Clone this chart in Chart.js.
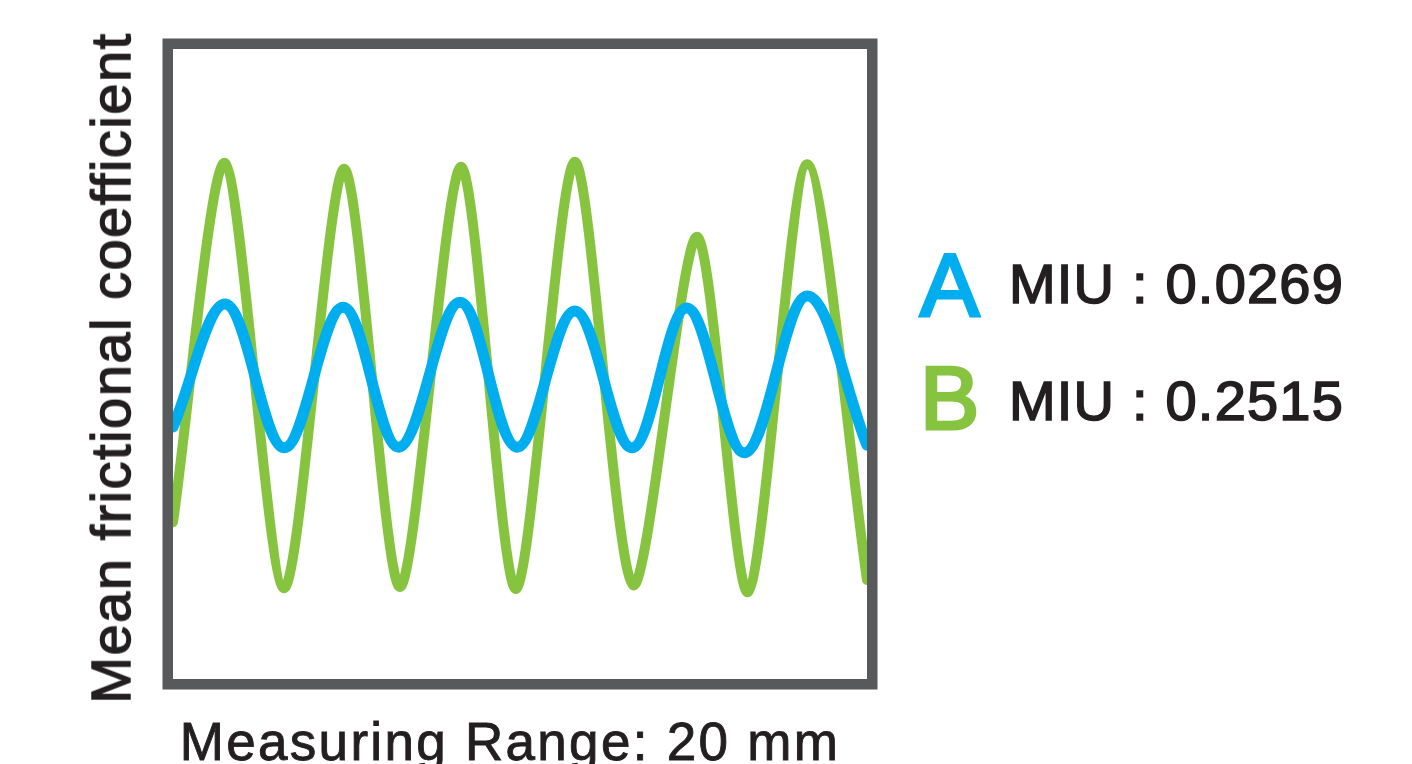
<!DOCTYPE html>
<html>
<head>
<meta charset="utf-8">
<script src="https://cdn.jsdelivr.net/npm/chart.js@4.4.1/dist/chart.umd.min.js"></script>
<style>
html,body{margin:0;padding:0;background:#fff;overflow:hidden}
#wrap{position:relative;width:1412px;height:764px}
#chart{position:absolute;left:0;top:0}
.txt{position:absolute;font-family:"Liberation Sans",Arial,sans-serif;color:#231f20;white-space:nowrap;-webkit-text-stroke:1.3px #231f20}
#ylab{left:111px;top:368px;font-size:56px;line-height:56px;letter-spacing:1.5px;transform:translate(-50%,-50%) rotate(-90deg)}
#xlab{left:510px;top:715px;font-size:53px;line-height:53px;letter-spacing:2.3px;transform:translateX(-50%);-webkit-text-stroke:0.9px #231f20}
.key{font-size:89px;line-height:89px;left:920px;-webkit-text-stroke:3.2px currentColor}
.miu{font-size:56px;line-height:56px;left:1009px;letter-spacing:1.2px;-webkit-text-stroke:1.6px #231f20}
</style>
</head>
<body>
<div id="wrap">
<canvas id="chart" width="1412" height="764"></canvas>
<div class="txt" id="ylab">Mean frictional coefficient</div>
<div class="txt" id="xlab">Measuring Range: 20 mm</div>
</div>
<script>

/* DATA */

// position along the track, mm
const posA = [0,1.53,3.20,4.90,6.51,8.27,9.91,11.58,13.23,14.81,16.48,18.27,20]
const miuA = [0.400,0.595,0.367,0.590,0.368,0.598,0.368,0.584,0.367,0.589,0.359,0.608,0.371]

const posB = [0,1.50,3.20,4.93,6.54,8.30,9.88,11.58,13.26,15.10,16.57,18.27,20]
const miuB = [0.249,0.819,0.144,0.810,0.146,0.813,0.143,0.821,0.149,0.702,0.138,0.817,0.157]

const seriesNames = ["A","B"]
const seriesMeans = ["0.0269","0.2515"]
const seriesColors = ["#00aeef","#86c440"]



/* LEGEND */

const legendTops = [[240.7,255.6],[353.7,372.6]]

seriesNames.forEach((name,i)=>{

const k = document.createElement("div")
k.className = "txt key"
k.style.top = legendTops[i][0]+"px"
k.style.color = seriesColors[i]
k.innerText = name
document.getElementById("wrap").appendChild(k)

const m = document.createElement("div")
m.className = "txt miu"
m.style.top = legendTops[i][1]+"px"
m.innerText = "MIU : "+seriesMeans[i]
document.getElementById("wrap").appendChild(m)

})



/* FRAME */

const framePlugin = {

id:"frame",

afterDraw(chart){

const a = chart.chartArea
const ctx = chart.ctx
ctx.save()
ctx.strokeStyle = "#58595b"
ctx.lineWidth = 10.5
ctx.strokeRect(a.left-5.25,a.top-5.25,a.right-a.left+10.5,a.bottom-a.top+10.5)
ctx.restore()

}

}



/* CHART */

function toPoints(xs,ys){

return xs.map((x,i)=>({x:x,y:ys[i]}))

}

new Chart(

document.getElementById("chart"),

{

type:"line",

data:{

datasets:[

{
label:seriesNames[0],
data:toPoints(posA,miuA),
borderColor:seriesColors[0],
borderWidth:11,
tension:0.36
},

{
label:seriesNames[1],
data:toPoints(posB,miuB),
borderColor:seriesColors[1],
borderWidth:10,
tension:0.27
}

]

},

options:{

responsive:false,
animation:false,
layout:{padding:{left:173,top:49,right:545,bottom:85}},
elements:{point:{radius:0},line:{capBezierPoints:false,borderCapStyle:"round"}},
scales:{
x:{type:"linear",min:0,max:20,display:false},
y:{min:0,max:1,display:false}
},
plugins:{legend:{display:false},tooltip:{enabled:false}}

},

plugins:[framePlugin]

}

)

</script>
</body>
</html>
